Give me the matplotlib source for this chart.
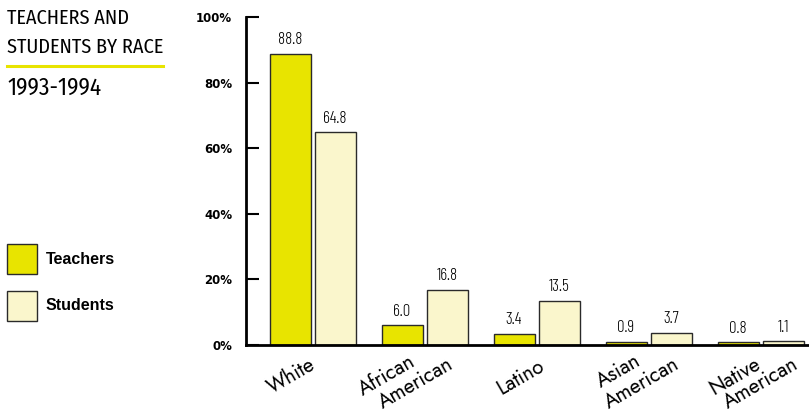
import matplotlib.pyplot as plt
import numpy as np
from matplotlib import font_manager
from matplotlib.font_manager import FontProperties
from matplotlib.textpath import TextPath

categories = [['White'], ['African', 'American'], ['Latino'], ['Asian', 'American'], ['Native', 'American']]
teachers = [88.8, 6.0, 3.4, 0.9, 0.8]
students = [64.8, 16.8, 13.5, 3.7, 1.1]
yticks = [0, 20, 40, 60, 80, 100]
ytick_labels = ['0%', '20%', '40%', '60%', '80%', '100%']

# label line centres relative to group centre on the baseline, px (right, down)
label_offsets = [[(-22, 30)],
                 [(-37.5, 30), (-8.5, 38.5)],
                 [(-15.5, 31.5)],
                 [(-30, 26), (-6.5, 38)],
                 [(-25.5, 31.5), (0.5, 38)]]

DPI = 100
installed = {f.name for f in font_manager.fontManager.ttflist}


def pick(cands):
    for c in cands:
        if c in installed:
            return c
    return 'DejaVu Sans'


def ext(text, family, weight=400):
    return TextPath((0, 0), text, size=100, prop=FontProperties(family=family, weight=weight)).get_extents()


def pick_ratio(text, ratio, cands):
    # condensed font whose width/height for text is closest to the picture's
    best, score = 'DejaVu Sans', 1e9
    for c in cands:
        if c not in installed:
            continue
        e = ext(text, c)
        d = abs(e.width / e.height - ratio)
        if d < score:
            best, score = c, d
    return best


def fit_w(text, family, target_px, weight=400):
    return target_px * 72 / DPI * 100 / ext(text, family, weight).width


def fit_h(text, family, target_px, weight=400):
    return target_px * 72 / DPI * 100 / ext(text, family, weight).height


condensed = ['Roboto Condensed', 'Fira Sans Condensed', 'IBM Plex Sans Condensed', 'Archivo Narrow',
             'PT Sans Narrow', 'Pragati Narrow', 'Barlow Condensed', 'Barlow Semi Condensed',
             'Encode Sans Condensed', 'Sofia Sans Condensed', 'Asap Condensed', 'Cabin Condensed',
             'Ubuntu Condensed', 'Saira Semi Condensed', 'Abel', 'Liberation Sans Narrow']
title_font = pick_ratio('STUDENTS BY RACE', 155 / 14.5, condensed)
val_font = pick_ratio('88.8', 22 / 12, condensed)
geo = pick(['Futura', 'Jost', 'League Spartan', 'Questrial', 'Didact Gothic', 'Mulish', 'Lato'])
sans = pick(['Liberation Sans', 'Arial', 'DejaVu Sans'])

teacher_color = '#e8e400'
student_color = '#faf6cc'
edge = '#2a2a2a'

fig = plt.figure(figsize=(8.09, 4.12), dpi=DPI)
ax = fig.add_axes([246 / 809, 67 / 412, 1 - 246 / 809, 328 / 412])

x = np.arange(len(categories))
w = 41 / 112
off = 22.5 / 112
ax.bar(x - off, teachers, w, color=teacher_color, edgecolor=edge, linewidth=1)
ax.bar(x + off, students, w, color=student_color, edgecolor=edge, linewidth=1)

val_size = fit_h('8', val_font, 12, 300)
for xi, v in list(zip(x - off, teachers)) + list(zip(x + off, students)):
    ax.annotate(f'{v:.1f}', (xi, v), xytext=(0, 4), textcoords='offset points',
                ha='center', va='bottom', fontsize=val_size, family=val_font, weight=300)

ax.set_xlim(-0.594, 4.433)
ax.set_ylim(0, 100)
ax.set_yticks(yticks)
ax.set_yticklabels(ytick_labels, fontsize=8.5, fontweight='bold', family='DejaVu Sans')
ax.tick_params(axis='y', direction='in', length=9, width=1.5, pad=10)
ax.set_xticks([])
for s in ['top', 'right']:
    ax.spines[s].set_visible(False)
ax.spines['left'].set_linewidth(2)
ax.spines['bottom'].set_linewidth(2)
ax.patch.set_alpha(0)

cat_size = fit_w('White', geo, 51, 300)
for xi, lines, offs in zip(x, categories, label_offsets):
    for lab, (dx, dy) in zip(lines, offs):
        ax.annotate(lab, (xi, 0), xycoords=('data', 'axes fraction'),
                    xytext=(dx * 0.72, -dy * 0.72), textcoords='offset points',
                    rotation=30, rotation_mode='anchor', ha='center', va='center',
                    fontsize=cat_size, family=geo, weight=300, annotation_clip=False)

# title block
t_size = fit_w('STUDENTS BY RACE', title_font, 155)
fig.text(7 / 809, 1 - 18 / 412, 'TEACHERS AND', fontsize=t_size, family=title_font, va='center', ha='left')
fig.text(7 / 809, 1 - 47 / 412, 'STUDENTS BY RACE', fontsize=t_size, family=title_font, va='center', ha='left')
fig.add_artist(plt.Line2D([7 / 809, 163 / 809], [1 - 66 / 412, 1 - 66 / 412], color=teacher_color, lw=2.2))
y_size = fit_w('1993-1994', title_font, 93)
fig.text(7 / 809, 1 - 88 / 412, '1993-1994', fontsize=y_size, family=title_font, va='center', ha='left')

# legend
for yy, col, lab in [(259, teacher_color, 'Teachers'), (306, student_color, 'Students')]:
    fig.add_artist(plt.Rectangle((7 / 809, 1 - (yy + 15) / 412), 30 / 809, 30 / 412,
                                 facecolor=col, edgecolor=edge, lw=1, transform=fig.transFigure))
    fig.text(46 / 809, 1 - yy / 412, lab, fontsize=11.5, fontweight='bold', family=sans, va='center', ha='left')

fig.savefig('out.png', dpi=DPI)
